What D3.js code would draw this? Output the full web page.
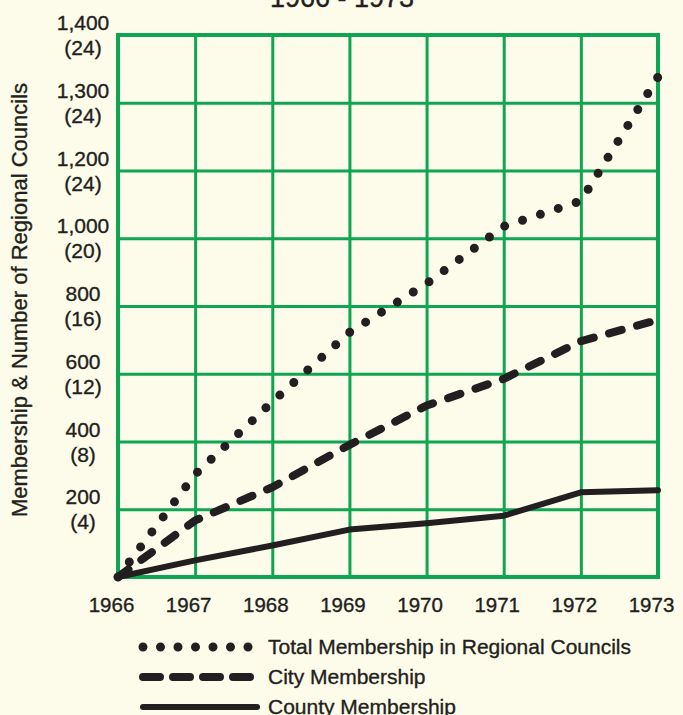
<!DOCTYPE html>
<html>
<head>
<meta charset="utf-8">
<script src="https://cdn.jsdelivr.net/npm/d3@7"></script>
<style>
    body { margin: 0; background: #fdfcea; }
    svg { display: block; font-family: "Liberation Sans", Arial, sans-serif; }
    svg text { stroke: #231f20; stroke-width: 0.35px; }
    .grid line { stroke: #0fa552; stroke-width: 3; }
    .grid path { display: none; }
    .tick text { fill: #231f20; font-size: 20.5px; }
</style>
</head>
<body>
<div id="chart"></div>
<script>
// data
const years = [1966, 1967, 1968, 1969, 1970, 1971, 1972, 1973];
const totalMembership = [0, 303, 517, 722, 866, 1035, 1110, 1338];
const cityMembership = [0, 167, 265, 390, 506, 585, 696, 759];
const countyMembership = [0, 49, 93, 140, 159, 181, 250, 256];
const yTickValues = [200, 400, 600, 800, 1000, 1200, 1300, 1400];
const yTickCouncils = [4, 8, 12, 16, 20, 24, 24, 24];
const seriesNames = ["Total Membership in Regional Councils", "City Membership", "County Membership"];
const titleText = "1966 - 1973";
const yTitle = "Membership & Number of Regional Councils";

const margin = {top: 35, right: 25, bottom: 138, left: 118}; // Chart margins
const width = 683 - margin.left - margin.right;
const height = 715 - margin.top - margin.bottom;
const green = "#0fa552";
const ink = "#231f20";

const svg = d3.select("#chart")
    .append("svg")
        .attr("width", width + margin.left + margin.right)
        .attr("height", height + margin.top + margin.bottom)
    .append("g")
        .attr("transform", `translate(${margin.left},${margin.top})`);

const x = d3.scaleLinear()
    .domain([years[0], years[years.length - 1]])
    .range([0, width]);

// the y axis is not linear: every labelled value gets an equal row
const yDomain = [0].concat(yTickValues);
const y = d3.scaleLinear()
    .domain(yDomain)
    .range(yDomain.map((d, i) => height - i * height / (yDomain.length - 1)));

// vertical grid + year labels
svg.append("g")
    .attr("class", "grid")
    .attr("transform", `translate(0,${height})`)
    .call(d3.axisBottom(x).tickValues(years).tickFormat(d3.format("d")).tickSize(-height).tickPadding(20))
    .selectAll("text")
        .attr("dx", "-7");

// horizontal grid
svg.append("g")
    .attr("class", "grid")
    .call(d3.axisLeft(y).tickValues(yTickValues).tickFormat("").tickSize(-width));

svg.append("rect") // frame
    .attr("width", width)
    .attr("height", height)
    .attr("fill", "none")
    .attr("stroke", green)
    .attr("stroke-width", 4);

// two line y labels: membership and (councils)
const yLabels = svg.selectAll(".ylab")
    .data(yTickValues)
    .enter().append("text")
        .attr("class", "ylab")
        .attr("x", -35)
        .attr("y", d => y(d))
        .attr("text-anchor", "middle")
        .attr("fill", ink)
        .style("font-size", "21px");
yLabels.append("tspan")
    .attr("x", -35)
    .attr("dy", -5)
    .text(d => d3.format(",")(d));
yLabels.append("tspan")
    .attr("x", -35)
    .attr("dy", 25)
    .text((d, i) => `(${yTickCouncils[i]})`);

svg.append("text")
    .attr("transform", `translate(${27 - margin.left},${300 - margin.top}) rotate(-90)`)
    .attr("text-anchor", "middle")
    .attr("fill", ink)
    .style("font-size", "22px")
    .text(yTitle);

svg.append("text")
    .attr("x", 342 - margin.left)
    .attr("y", 7 - margin.top)
    .attr("text-anchor", "middle")
    .attr("fill", ink)
    .style("font-size", "27px")
    .text(titleText);

const line = d3.line()
    .x((d, i) => x(years[i]))
    .y(d => y(d));

const styles = [
    {data: totalMembership, width: 9, dash: "0 18.8", cap: "round", legendDash: "0 17.5"},
    {data: cityMembership, width: 8, dash: "13 16", cap: "round", legendDash: "17 13"},
    {data: countyMembership, width: 6, dash: null, cap: "round", legendDash: null}
];

svg.selectAll(".series")
    .data(styles.slice().reverse())
    .enter().append("path")
        .attr("class", "series")
        .attr("d", d => line(d.data))
        .attr("fill", "none")
        .attr("stroke", ink)
        .attr("stroke-width", d => d.width)
        .attr("stroke-linecap", d => d.cap)
        .attr("stroke-linejoin", "round")
        .attr("stroke-dasharray", d => d.dash);

// legend below the plot
const legend = svg.append("g")
    .attr("transform", `translate(0,${height})`);
styles.forEach((s, i) => {
    const ly = 70 + i * 30;
    legend.append("line")
        .attr("x1", 143 - margin.left)
        .attr("x2", (i === 0 ? 264 : 257) - margin.left)
        .attr("y1", ly)
        .attr("y2", ly)
        .attr("stroke", ink)
        .attr("stroke-width", s.width)
        .attr("stroke-linecap", s.cap)
        .attr("stroke-dasharray", s.legendDash);
    legend.append("text")
        .attr("x", 268 - margin.left)
        .attr("y", ly + 7)
        .attr("fill", ink)
        .style("font-size", "21px")
        .text(seriesNames[i]);
});
</script>
</body>
</html>
